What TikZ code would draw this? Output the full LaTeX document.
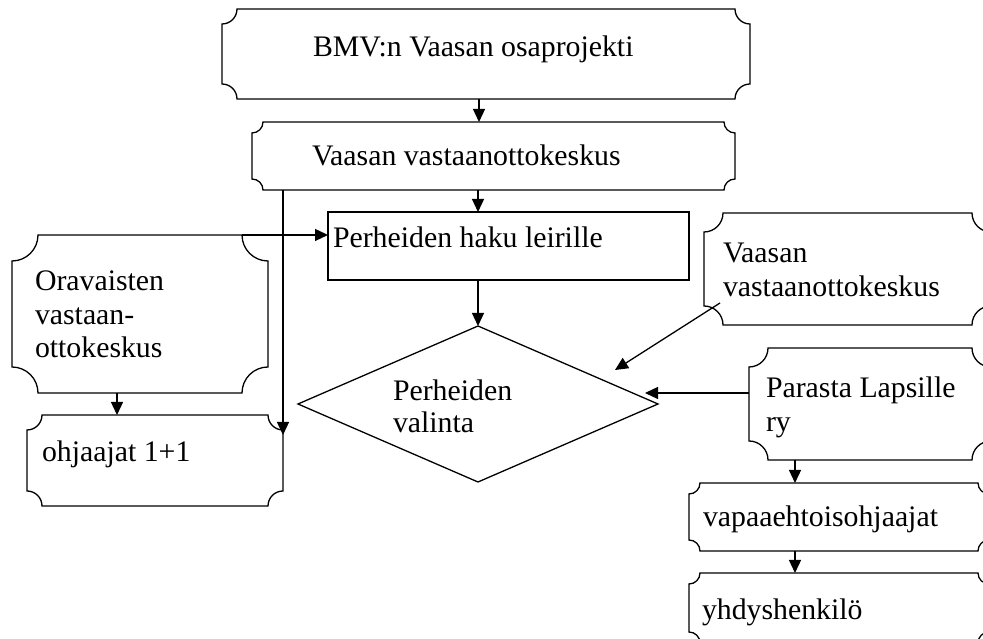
\documentclass[tikz,border=0pt]{standalone}
\usepackage{fontspec}
\setmainfont{Liberation Serif}
\usetikzlibrary{shapes.geometric,arrows.meta,calc}
\newcommand\drawplaque[2]{%
  \draw[line width=1.3pt] ([xshift=#2pt]#1.north west) -- ([xshift=-#2pt]#1.north east)
    arc[start angle=180,end angle=270,radius=#2pt] -- ([yshift=#2pt]#1.south east)
    arc[start angle=90,end angle=180,radius=#2pt] -- ([xshift=#2pt]#1.south west)
    arc[start angle=0,end angle=90,radius=#2pt] -- ([yshift=-#2pt]#1.north west)
    arc[start angle=270,end angle=360,radius=#2pt] -- cycle;}
\begin{document}
\begin{tikzpicture}[x=1pt,y=1pt,
  box/.style={rectangle,inner sep=0pt,outer sep=0pt},
  lbl/.style={inner sep=0pt,outer sep=0pt,anchor=base west,font=\fontsize{29.8}{34.5}\selectfont,align=left},
  arr/.style={line width=1.3pt,-{Triangle[length=13pt,width=12pt]}}]
\useasboundingbox (0,0) rectangle (983,639);
\clip (0,0) rectangle (983,639);
% boxes
\node[box,minimum width=528pt,minimum height=90pt] (b1) at (486,585) {};
\node[box,minimum width=483pt,minimum height=68pt] (b2) at (493.5,483) {};
\node[box,draw,line width=1.3pt,minimum width=361pt,minimum height=68pt] (haku) at (508.5,393) {};
\node[box,minimum width=256pt,minimum height=158pt] (orav) at (140,325) {};
\node[box,minimum width=256pt,minimum height=91pt] (ohj) at (155,178.5) {};
\node[diamond,draw,line width=1.3pt,inner sep=0pt,outer sep=0pt,minimum width=360pt,minimum height=156pt] (valinta) at (478,235) {};
\node[box,minimum width=287pt,minimum height=112pt] (vaasR) at (847.5,370) {};
\node[box,minimum width=242pt,minimum height=112pt] (paras) at (870,235) {};
\node[box,minimum width=300pt,minimum height=68pt] (vapaa) at (839,122) {};
\node[box,minimum width=300pt,minimum height=70pt] (yhdys) at (839,31) {};
\drawplaque{b1}{15}
\drawplaque{b2}{11}
\drawplaque{orav}{26}
\drawplaque{ohj}{15}
\drawplaque{vaasR}{19}
\drawplaque{paras}{19}
\drawplaque{vapaa}{11}
\drawplaque{yhdys}{11}
% texts (base anchor = last line)
\node[lbl] (t1) at (313,582) {BMV:n Vaasan osaprojekti};
\node[lbl] (t2) at (312,473) {Vaasan vastaanottokeskus};
\node[lbl] (t3) at (333,391) {Perheiden haku leirille};
\node[lbl,font=\fontsize{29.8}{33.5}\selectfont] (t4) at (35,281) {Oravaisten\\vastaan-\\ottokeskus};
\node[lbl] (t5) at (42,177) {ohjaajat 1+1};
\node[lbl,font=\fontsize{29.8}{32}\selectfont] (t6) at (393,206) {Perheiden\\valinta};
\node[lbl] (t7) at (723,342) {Vaasan\\vastaanottokeskus};
\node[lbl] (t8) at (766,207) {Parasta Lapsille\\ry};
\node[lbl] (t9) at (703,112) {vapaaehtoisohjaajat};
\node[lbl] (t10) at (702,19) {yhdyshenkilö};
% connectors
\draw[arr] ([xshift=-7pt]b1.south) -- ([xshift=-14.5pt]b2.north);
\draw[arr] ([xshift=-15.5pt]b2.south) -- ([xshift=-30.5pt]haku.north);
\draw[arr] ([xshift=31pt]b2.south west) -- ([yshift=-20pt]ohj.north east);
\draw[arr] ([xshift=-26pt]orav.north east) -- ([yshift=-23pt]haku.north west);
\draw[arr] ([xshift=-23pt]orav.south) -- ([xshift=-38pt]ohj.north);
\draw[arr] (valinta.north |- haku.south) -- (valinta.north);
\coordinate (c1) at (720,336);
\coordinate (c2) at (615,269);
\draw[arr] (c1) -- (c2);
\coordinate (c3) at (645,246);
\draw[arr] (paras.west |- c3) -- (c3);
\draw[arr] ([xshift=-75pt]paras.south) -- ([xshift=-44pt]vapaa.north);
\draw[arr] ([xshift=-44pt]vapaa.south) -- ([xshift=-44pt]yhdys.north);
\end{tikzpicture}
\end{document}
